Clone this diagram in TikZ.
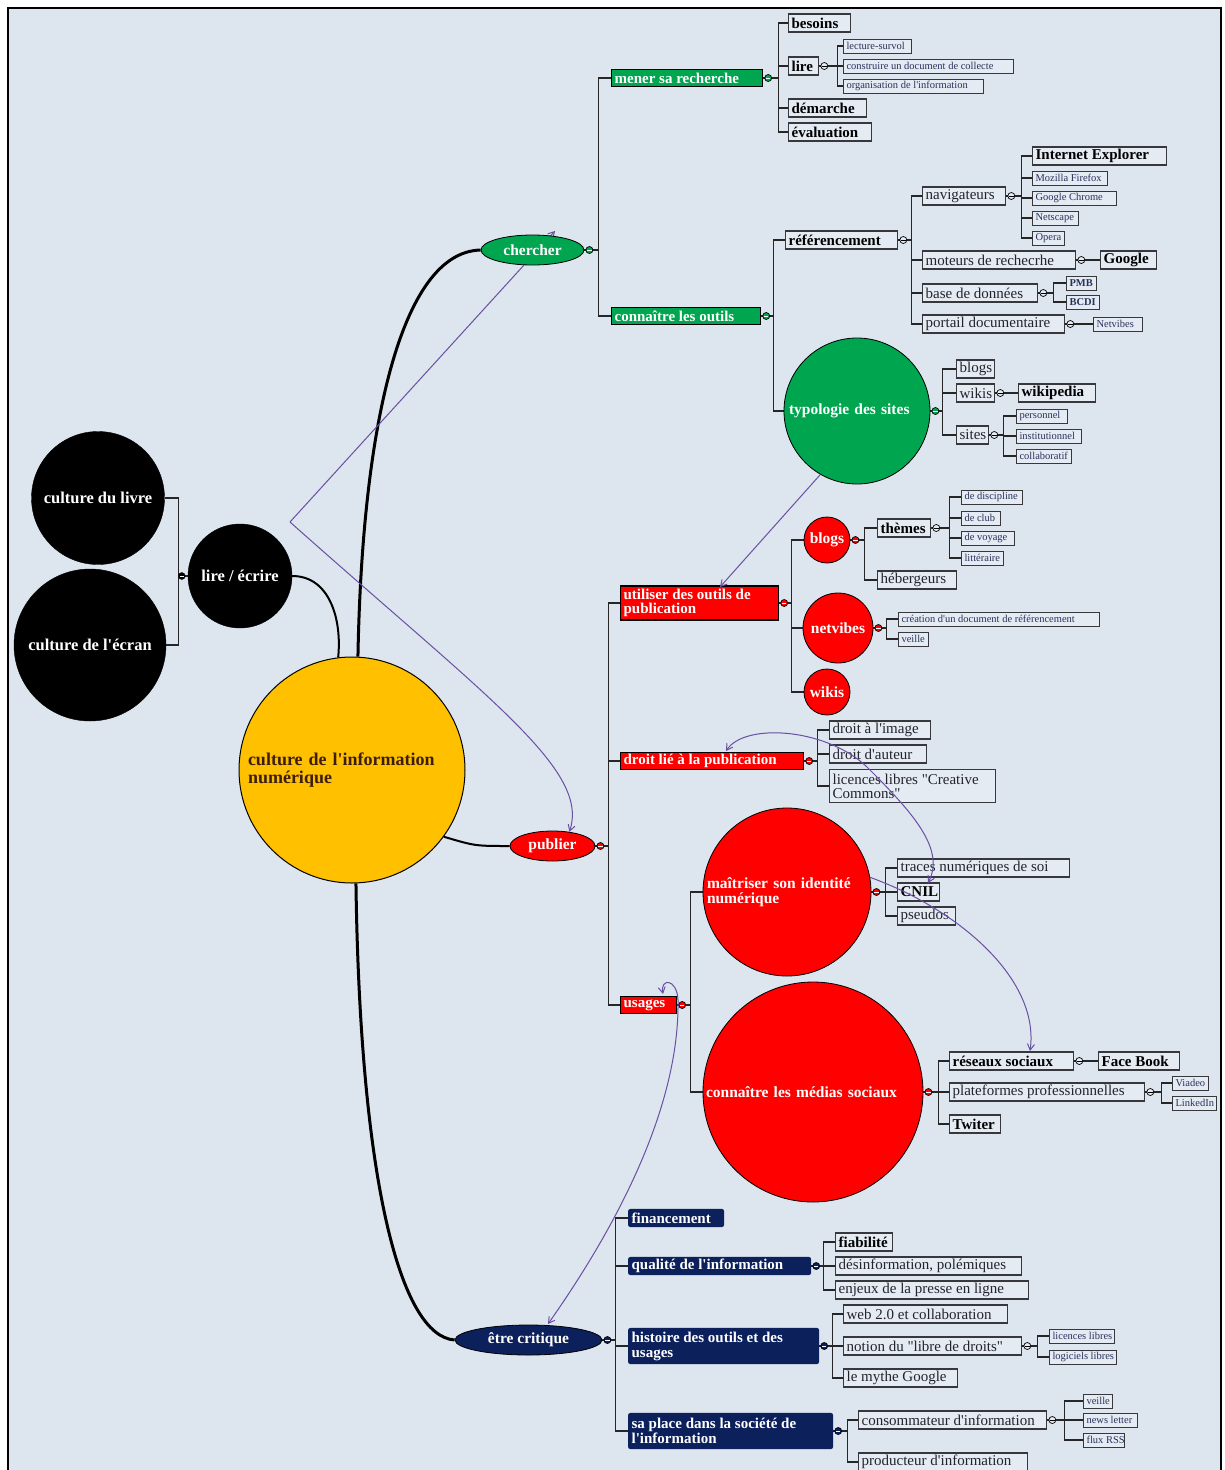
\documentclass[tikz,border=0pt]{standalone}
\usepackage{fontspec}
\setmainfont{Liberation Serif}[Ligatures=TeXOff]
\usetikzlibrary{shapes.geometric,arrows.meta}
\definecolor{bgc}{RGB}{221,229,239}
\definecolor{leaf}{RGB}{229,235,243}
\definecolor{boxln}{RGB}{55,55,60}
\definecolor{mgreen}{RGB}{0,165,80}
\definecolor{mred}{RGB}{255,0,0}
\definecolor{mnavy}{RGB}{12,33,92}
\definecolor{myellow}{RGB}{255,192,0}
\definecolor{relc}{RGB}{105,80,160}
\definecolor{txtg}{RGB}{35,35,45}
\definecolor{txtb}{RGB}{40,50,90}
\definecolor{brownt}{RGB}{60,30,10}
\pgfdeclarelayer{back}\pgfdeclarelayer{bg}\pgfsetlayers{back,bg,main}
\newcommand\bx[2]{\makebox[#1pt][l]{#2}}
\newcommand\pb[2]{\parbox{#1pt}{\raggedright #2}}
\newcommand\tnf{\fontsize{10.5}{10.5}\selectfont}
\newcommand\kids[3]{\foreach \kid in {#3} {\draw[br] (#1.east) -- ++(#2,0) |- (\kid.west);}}
\newcommand\mk[3]{\path (#1.east) ++(5,0) coordinate (mkp);
  \filldraw[fill=#2,draw=black,line width=0.7pt] (mkp) circle (3.5pt);
  \draw[#3,line width=0.9pt] (mkp) ++(-2.2,0) -- ++(4.4,0);}
\tikzset{
  br/.style={draw=black!85,line width=1.3pt},
  relL/.style={draw=relc,line width=1pt},
  lb/.style={draw=boxln,fill=leaf,line width=1.3pt,inner xsep=3pt,inner ysep=0pt,minimum height=18pt,anchor=west,text=black,font=\fontsize{15}{15}\selectfont\bfseries},
  lr/.style={lb,text=txtg,font=\fontsize{15}{15}\selectfont},
  lr2/.style={lr,minimum height=33pt,font=\fontsize{15}{14}\selectfont},
  tn/.style={lb,line width=1pt,minimum height=14pt,text=txtb,font=\tnf},
  gb/.style={draw=black,fill=mgreen,line width=1.2pt,inner xsep=3pt,inner ysep=0pt,minimum height=17pt,anchor=west,text=white,font=\fontsize{15}{15}\selectfont\bfseries},
  rb/.style={gb,fill=mred},
  rb2/.style={rb,minimum height=34pt,font=\fontsize{15}{14}\selectfont\bfseries},
  nb/.style={gb,fill=mnavy,draw=mnavy,rounded corners=2pt},
  nb2/.style={nb,minimum height=35pt,font=\fontsize{15}{15}\selectfont\bfseries},
  cc/.style={circle,draw=black,line width=1pt,fill=myellow,minimum size=226pt,inner sep=0pt,text=brownt,align=left,text width=208pt,font=\fontsize{18}{18}\selectfont\bfseries},
  bc/.style={circle,fill=black,draw=black,inner sep=0pt,text=white,font=\fontsize{16.5}{17}\selectfont\bfseries},
  circ/.style={circle,draw=black,line width=0.8pt,inner sep=0pt,text=white,align=left,font=\fontsize{15.5}{15}\selectfont\bfseries},
  el/.style={ellipse,draw=black,line width=0.8pt,inner sep=0pt,minimum height=30pt,text=white,font=\fontsize{15.5}{15}\selectfont\bfseries},
  tip/.style={-{Straight Barb[length=6pt,width=7pt]}},
  tips/.style={{Straight Barb[length=6pt,width=7pt]}-{Straight Barb[length=6pt,width=7pt]}}
}
\begin{document}
\begin{tikzpicture}[x=1pt,y=-1pt]
\useasboundingbox (0,0) rectangle (1225,1470);
\begin{pgfonlayer}{back}
\fill[white] (0,0) rectangle (1225,1470);
\fill[bgc] (8,8) rectangle (1221,1470);
\draw[line width=2pt] (8,1471) -- (8,8) -- (1221,8) -- (1221,1471);
\end{pgfonlayer}

% ---- central and left part
\node[cc] (cin) at (352,770) {culture de l'information\\numérique};
\node[bc,minimum size=133pt] (livre) at (98,498) {culture du livre};
\node[bc,minimum size=152pt] (ecran) at (90,645) {culture de l'écran};
\node[bc,minimum size=104pt] (lireE) at (240,576) {lire / écrire};

% ---- chercher
\node[el,fill=mgreen,minimum width=103pt] (cher) at (532.5,250) {chercher};
\node[gb] (mener) at (611,78) {\bx{145}{mener sa recherche}};
\node[gb] (outils) at (611,316) {\bx{143}{connaître les outils}};
\node[lb] (besoins) at (788,23) {\bx{56}{besoins}};
\node[lb] (lire) at (788,66) {\bx{24}{lire}};
\node[lb] (demarche) at (788,108) {\bx{72}{démarche}};
\node[lb] (evaluation) at (788,132) {\bx{77}{évaluation}};
\node[tn] (lecture) at (843,46) {\bx{62}{lecture-survol}};
\node[tn] (construire) at (843,66) {\bx{164}{construire un document de collecte}};
\node[tn] (organisation) at (843,86) {\bx{134}{organisation de l'information}};
\node[lb] (ref) at (785,240) {\bx{106}{référencement}};
\node[circ,fill=mgreen,minimum size=146pt,text width=136pt] (typo) at (857,411) {typologie des sites};
\node[lr] (navig) at (922,196) {\bx{77}{navigateurs}};
\node[lr] (moteurs) at (922,260) {\bx{147}{moteurs de rechecrhe}};
\node[lr] (base) at (922,293) {\bx{109}{base de données}};
\node[lr] (portail) at (922,324) {\bx{136}{portail documentaire}};
\node[lb] (ie) at (1032,156) {\bx{128}{Internet Explorer}};
\node[tn] (firefox) at (1032,178) {\bx{69}{Mozilla Firefox}};
\node[tn] (chrome) at (1032,198) {\bx{78}{Google Chrome}};
\node[tn] (netscape) at (1032,218) {\bx{40}{Netscape}};
\node[tn] (opera) at (1032,238) {\bx{26}{Opera}};
\node[lb] (google) at (1100,260) {\bx{50}{Google}};
\node[tn,font=\tnf\bfseries] (pmb) at (1066,283) {\bx{24}{PMB}};
\node[tn,font=\tnf\bfseries] (bcdi) at (1066,302) {\bx{27}{BCDI}};
\node[tn] (netvL) at (1093,324) {\bx{43}{Netvibes}};
\node[lr] (blogsT) at (956,369) {\bx{32}{blogs}};
\node[lr] (wikisT) at (956,393) {\bx{32}{wikis}};
\node[lr] (sitesT) at (956,435) {\bx{26}{sites}};
\node[lb] (wikipedia) at (1018,393) {\bx{71}{wikipedia}};
\node[tn] (personnel) at (1016,416) {\bx{45}{personnel}};
\node[tn] (institu) at (1016,436) {\bx{59}{institutionnel}};
\node[tn] (collab) at (1016,456) {\bx{49}{collaboratif}};

% ---- publier
\node[el,fill=mred,minimum width=85pt] (publ) at (552.5,846) {publier};
\node[rb2] (utiliser) at (620,603) {\pb{152}{utiliser des outils de\\publication}};
\node[rb] (droit) at (620,761) {\bx{177}{droit lié à la publication}};
\node[rb] (usages) at (620,1005) {\bx{50}{usages}};
\node[circ,fill=mred,minimum size=46pt] (blogsC) at (827,540) {blogs};
\node[circ,fill=mred,minimum size=70pt] (netvC) at (838,628) {netvibes};
\node[circ,fill=mred,minimum size=46pt] (wikisC) at (827,692) {wikis};
\node[lb] (themes) at (877,528) {\bx{47}{thèmes}};
\node[lr] (heberg) at (877,580) {\bx{73}{hébergeurs}};
\node[tn] (disc) at (961,497) {\bx{55}{de discipline}};
\node[tn] (club) at (961,518) {\bx{33}{de club}};
\node[tn] (voyage) at (961,538) {\bx{47}{de voyage}};
\node[tn] (litt) at (961,558) {\bx{36}{littéraire}};
\node[tn] (creation) at (898,619) {\bx{195}{création d'un document de référencement}};
\node[tn] (veilleN) at (898,639) {\bx{24}{veille}};
\node[lr] (dimage) at (829,730) {\bx{95}{droit à l'image}};
\node[lr] (dauteur) at (829,754) {\bx{91}{droit d'auteur}};
\node[lr2] (licences) at (829,786) {\pb{160}{licences libres "Creative\\ Commons"}};
\node[circ,fill=mred,minimum size=168pt,text width=160pt] (maitr) at (787,892) {maîtriser son identité\\numérique};
\node[circ,fill=mred,minimum size=220pt,text width=214pt] (medias) at (813,1092) {connaître les médias sociaux};
\node[lr] (traces) at (897,868) {\bx{166}{traces numériques de soi}};
\node[lb] (cnil) at (897,892) {\bx{36}{CNIL}};
\node[lr] (pseudos) at (897,916) {\bx{52}{pseudos}};
\node[lb] (reseaux) at (949,1061) {\bx{118}{réseaux sociaux}};
\node[lr] (platef) at (949,1092) {\bx{189}{plateformes professionnelles}};
\node[lb] (twiter) at (949,1124) {\bx{45}{Twiter}};
\node[lb] (facebook) at (1098,1061) {\bx{75}{Face Book}};
\node[tn] (viadeo) at (1172,1083) {\bx{30}{Viadeo}};
\node[tn] (linkedin) at (1172,1103) {\bx{38}{LinkedIn}};

% ---- etre critique
\node[el,fill=mnavy,minimum width=147pt] (crit) at (528.5,1340) {être critique};
\node[nb] (financ) at (628,1218) {\bx{89}{financement}};
\node[nb] (qualite) at (628,1266) {\bx{176}{qualité de l'information}};
\node[nb2] (histoire) at (628,1346) {\pb{184}{histoire des outils et des\\usages}};
\node[nb2] (place) at (628,1431) {\pb{198}{sa place dans la société de\\l'information}};
\node[lb] (fiab) at (835,1242) {\bx{51}{fiabilité}};
\node[lr] (desinfo) at (835,1266) {\bx{180}{désinformation, polémiques}};
\node[lr] (enjeux) at (835,1290) {\bx{187}{enjeux de la presse en ligne}};
\node[lr] (web) at (843,1314) {\bx{158}{web 2.0 et collaboration}};
\node[lr] (notion) at (843,1346) {\bx{172}{notion du "libre de droits"}};
\node[lr] (mythe) at (843,1378) {\bx{108}{le mythe Google}};
\node[tn] (liclib) at (1049,1336) {\bx{59}{licences libres}};
\node[tn] (loglib) at (1049,1357) {\bx{61}{logiciels libres}};
\node[lr] (conso) at (858,1420) {\bx{182}{consommateur d'information}};
\node[lr] (prod) at (858,1462) {\bx{163}{producteur d'information}};
\node[tn] (veilleC) at (1083,1401) {\bx{23}{veille}};
\node[tn] (news) at (1083,1420) {\bx{48}{news letter}};
\node[tn] (rss) at (1083,1440) {\bx{35}{flux RSS}};

% ---- connectors (under nodes)
\coordinate (vtx) at (290,522);
\coordinate (chTip) at (555,231);
\begin{pgfonlayer}{bg}
\draw[line width=3pt] (cin.87) .. controls (362,430) and (400,252) .. (cher.west);
\draw[line width=3pt] (cin.272) .. controls (360,1180) and (400,1336) .. (crit.west);
\draw[line width=2pt] (cin.-36) .. controls (475,846) .. (publ.west);
\draw[line width=2pt] (lireE.east) .. controls (330,576) and (342,620) .. (cin.97);
\draw[br] (livre.east) -- ++(14,0) |- (lireE.west);
\draw[br] (ecran.east) -- ++(12,0) |- (lireE.west);
\kids{cher}{14}{mener,outils}
\kids{mener}{15}{besoins,lire,demarche,evaluation}
\kids{lire}{18}{lecture,construire,organisation}
\kids{outils}{12}{ref,typo}
\kids{ref}{13}{navig,moteurs,base,portail}
\kids{navig}{15}{ie,firefox,chrome,netscape,opera}
\draw[br] (moteurs.east) -- (google.west);
\kids{base}{15}{pmb,bcdi}
\draw[br] (portail.east) -- (netvL.west);
\kids{typo}{12}{blogsT,wikisT,sitesT}
\draw[br] (wikisT.east) -- (wikipedia.west);
\kids{sitesT}{14}{personnel,institu,collab}
\kids{publ}{13}{utiliser,droit,usages}
\kids{utiliser}{12}{blogsC,netvC,wikisC}
\kids{blogsC}{14}{themes,heberg}
\kids{themes}{18}{disc,club,voyage,litt}
\kids{netvC}{13}{creation,veilleN}
\kids{droit}{13}{dimage,dauteur,licences}
\kids{usages}{13}{maitr,medias}
\kids{maitr}{14}{traces,cnil,pseudos}
\kids{medias}{15}{reseaux,platef,twiter}
\draw[br] (reseaux.east) -- (facebook.west);
\kids{platef}{16}{viadeo,linkedin}
\kids{crit}{13}{financ,qualite,histoire,place}
\kids{qualite}{12}{fiab,desinfo,enjeux}
\kids{histoire}{13}{web,notion,mythe}
\kids{notion}{15}{liclib,loglib}
\kids{place}{14}{conso,prod}
\kids{conso}{17}{veilleC,news,rss}
\draw[relL,tip] (vtx) -- (chTip);
\end{pgfonlayer}

% ---- fold markers
\mk{cher}{mgreen}{white}
\mk{mener}{mgreen}{white}
\mk{lire}{leaf}{black}
\mk{outils}{mgreen}{white}
\mk{ref}{leaf}{black}
\mk{navig}{leaf}{black}
\mk{moteurs}{leaf}{black}
\mk{base}{leaf}{black}
\mk{portail}{leaf}{black}
\mk{typo}{mgreen}{white}
\mk{wikisT}{leaf}{black}
\mk{sitesT}{leaf}{black}
\mk{publ}{mred}{white}
\mk{utiliser}{mred}{white}
\mk{blogsC}{mred}{white}
\mk{themes}{leaf}{black}
\mk{netvC}{mred}{white}
\mk{droit}{mred}{white}
\mk{usages}{mred}{white}
\mk{maitr}{mred}{white}
\mk{medias}{mred}{white}
\mk{reseaux}{leaf}{black}
\mk{platef}{leaf}{black}
\mk{crit}{mnavy}{white}
\mk{qualite}{mnavy}{white}
\mk{histoire}{mnavy}{white}
\mk{place}{mnavy}{white}
\mk{notion}{leaf}{black}
\mk{conso}{leaf}{black}
\path (lireE.west) ++(-6,0) coordinate (mkl);
\filldraw[fill=black,draw=black] (mkl) circle (3.5pt);
\draw[white,line width=0.9pt] (mkl) ++(-2.2,0) -- ++(4.4,0);

% ---- relationship arrows
\coordinate (utTip) at (720,587);
\coordinate (drTip) at (726,751);
\coordinate (cnTip) at (928,883);
\coordinate (rsTip) at (1030,1051);
\coordinate (crTip) at (548,1324);
\coordinate (usTip) at (663,994);
\draw[relL,tip] (vtx) .. controls (490,700) and (590,770) .. (publ.40);
\draw[relL,tip] (typo.240) -- (utTip);
\draw[relL,tips] (drTip) .. controls (745,722) and (830,728) .. (870,770) .. controls (915,815) and (945,850) .. (cnTip);
\draw[relL,tip] (maitr.10) .. controls (960,910) and (1040,980) .. (rsTip);
\draw[relL,tips] (crTip) .. controls (600,1250) and (680,1120) .. (678,1000) .. controls (677,978) and (660,978) .. (usTip);
\end{tikzpicture}
\end{document}
